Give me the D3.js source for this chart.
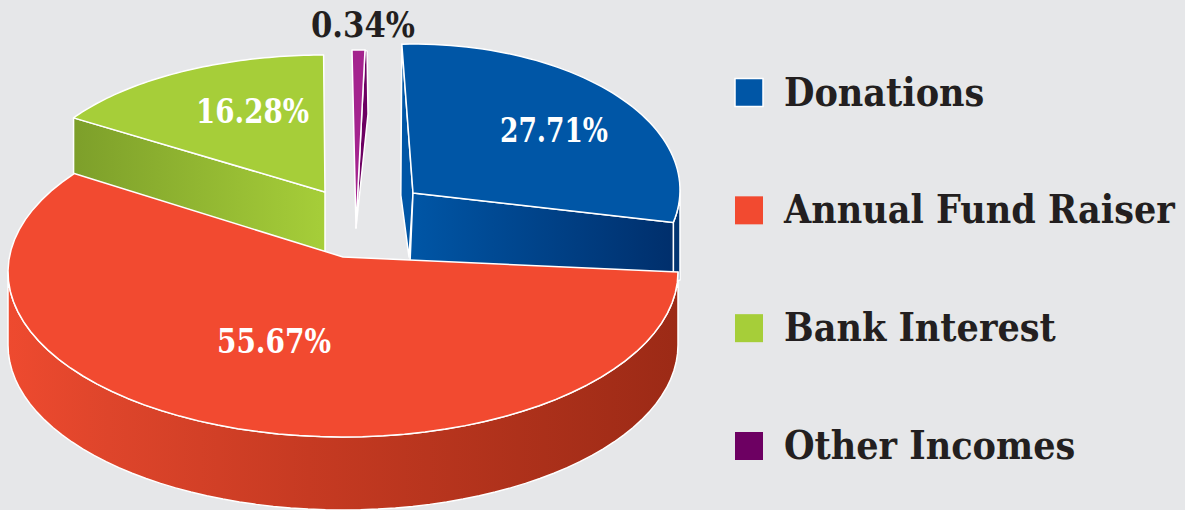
<!DOCTYPE html>
<html>
  <head>
    <meta charset="utf-8">
    <title>Income sources</title>
    <script src="https://d3js.org/d3.v7.min.js"></script>
    <style>
      html, body { margin: 0; background: #e6e7e9; }
      svg { display: block; }
      text { font-family: "DejaVu Serif Condensed", "DejaVu Serif", serif; font-weight: 700; }
      .edge { stroke: #fff; stroke-width: 1.5; stroke-linejoin: round; }
    </style>
  </head>
  <body>
    <svg id="svg" width="1185" height="510"></svg>
    <script>
      // data
      var categories = ["Donations", "Annual Fund Raiser", "Bank Interest", "Other Incomes"];
      var values = [27.71, 55.67, 16.28, 0.34];
      var valueLabels = ["27.71%", "55.67%", "16.28%", "0.34%"];
      var colours = ["#0056a6", "#f24a30", "#a6ce39", "#6d0062"];

      // each wedge was placed by hand in the original, so every one gets its own
      // ellipse, plus a turn and stretch (degrees) to sit the pie angles on it
      var wedges = [
        { apex: [413, 193], centre: [413, 190], rx: 267, ry: 146, turn: -2.4, stretch: 1.055, label: [554, 142], labelWidth: 108, fill: "#0056a6" },
        { apex: [343, 257], centre: [343, 272], rx: 335, ry: 165, turn: -9.76, stretch: 1.081, label: [274, 353], labelWidth: 114, fill: "#f24a30" },
        { apex: [325, 192], centre: [325, 192], rx: 299, ry: 137, turn: 2.6, stretch: 0.972, label: [252.5, 123], labelWidth: 113, fill: "#a6ce39" },
        { apex: [356, 228], centre: [356, 228], rx: 300, ry: 178, turn: 0.46, stretch: 2.03, label: [363, 37], labelWidth: 104, fill: "#a4238e" }
      ];

      var svg = d3.select("#svg");
      var defs = svg.append("defs");
      var line = d3.line();
      var toRad = Math.PI / 180;

      function gradient(id, stops) {
        defs.append("linearGradient").attr("id", id)
          .selectAll("stop").data(stops)
          .enter().append("stop")
            .attr("offset", function(d) { return d[0]; })
            .attr("stop-color", function(d) { return d[1]; });
      }
      gradient("redWall", [[0, "#ee4a2f"], [0.15, "#de452b"], [0.45, "#c63a22"], [0.8, "#ab301a"], [1, "#9c2a16"]]);
      gradient("blueWall", [[0, "#0056a6"], [1, "#002f6c"]]);
      gradient("greenWall", [[0, "#7d9f2a"], [1, "#a6ce39"]]);

      var slices = d3.pie().sort(null).value(function(d) { return d; })(values);

      // pie angle -> point on a wedge's ellipse
      function rimPoint(w, angle) {
        return [w.centre[0] + w.rx * Math.sin(angle), w.centre[1] - w.ry * Math.cos(angle)];
      }
      function rim(w, from, to) {
        return d3.range(0, 61).map(function(i) { return rimPoint(w, from + (to - from) * i / 60); });
      }
      function shift(p, dx, dy) { return [p[0] + dx, p[1] + dy]; }
      function draw(points, fill) {
        return svg.append("path").attr("class", "edge").attr("d", line(points) + "Z").attr("fill", fill);
      }

      slices.forEach(function(s, i) {
        var w = wedges[i];
        var start = s.startAngle + w.turn * toRad;
        var view = d3.scaleLinear().domain([s.startAngle, s.endAngle])
          .range([start, start + (s.endAngle - s.startAngle) * w.stretch]);
        w.from = view(s.startAngle);
        w.to = view(s.endAngle);
      });

      var blue = wedges[0], red = wedges[1], green = wedges[2], purple = wedges[3];

      // green: cut face then top
      var greenRim = rimPoint(green, green.from);
      draw([green.apex, greenRim, shift(greenRim, 0, 60), shift(green.apex, 0, 60)], "url(#greenWall)");
      draw([green.apex].concat(rim(green, green.from, green.to)), green.fill);

      // purple: dark cut face then top
      var purpleRim = rimPoint(purple, purple.to);
      draw([purple.apex, purpleRim, shift(purpleRim, 2, 1), shift(purpleRim, 3, 64)], colours[3]);
      draw([purple.apex].concat(rim(purple, purple.from, purple.to)), purple.fill);

      // blue: sliver of the near cut face, outer wall, front cut face, top
      var blueStart = rimPoint(blue, blue.from);
      var blueEnd = rimPoint(blue, blue.to);
      draw([blue.apex, blueStart, shift(blueStart, -1, 151), shift(blue.apex, -4, 64)], blue.fill);
      var blueSide = rim(blue, blue.to, Math.PI / 2);
      draw(blueSide.concat([shift(blueSide[60], 0, 90), shift(blueEnd, 0, 60)]), "#003472");
      draw([blue.apex, blueEnd, shift(blueEnd, 0, 60), shift(blue.apex, -3, 70)], "url(#blueWall)");
      draw([blue.apex].concat(rim(blue, blue.from, blue.to)), blue.fill);

      // red: outer wall then top, drawn last so it hides the feet of the others
      var redFront = rim(red, Math.PI / 2, 3 * Math.PI / 2);
      var redDepth = 73;
      draw(redFront.concat(redFront.slice().reverse().map(function(p) { return shift(p, 0, redDepth); })), "url(#redWall)");
      draw([red.apex].concat(rim(red, red.from, red.to)), red.fill);

      // value labels, squeezed to the width of the narrower original face
      svg.selectAll(".value")
          .data(valueLabels)
        .enter().append("text")
          .attr("class", "value")
          .attr("x", function(d, i) { return wedges[i].label[0]; })
          .attr("y", function(d, i) { return wedges[i].label[1]; })
          .attr("text-anchor", "middle")
          .attr("font-size", function(d, i) { return i == 3 ? 35 : 34; })
          .attr("textLength", function(d, i) { return wedges[i].labelWidth; })
          .attr("lengthAdjust", "spacingAndGlyphs")
          .attr("fill", function(d, i) { return i == 3 ? "#231f20" : "#fff"; })
          .text(function(d) { return d; });

      // legend
      var legendY = d3.scalePoint().domain(categories).range([92.5, 446]);
      var legend = svg.selectAll(".legend")
          .data(categories)
        .enter().append("g")
          .attr("class", "legend")
          .attr("transform", function(d) { return "translate(735," + legendY(d) + ")"; });
      legend.append("rect")
          .attr("y", -14).attr("width", 28).attr("height", 28)
          .attr("fill", function(d, i) { return colours[i]; })
          .attr("stroke", function(d, i) { return i == 0 ? "#fff" : "none"; })
          .attr("stroke-width", 1.5);
      legend.append("text")
          .attr("x", 49).attr("y", 13)
          .attr("font-size", 39)
          .attr("fill", "#231f20")
          .text(function(d) { return d; });
    </script>
  </body>
</html>
